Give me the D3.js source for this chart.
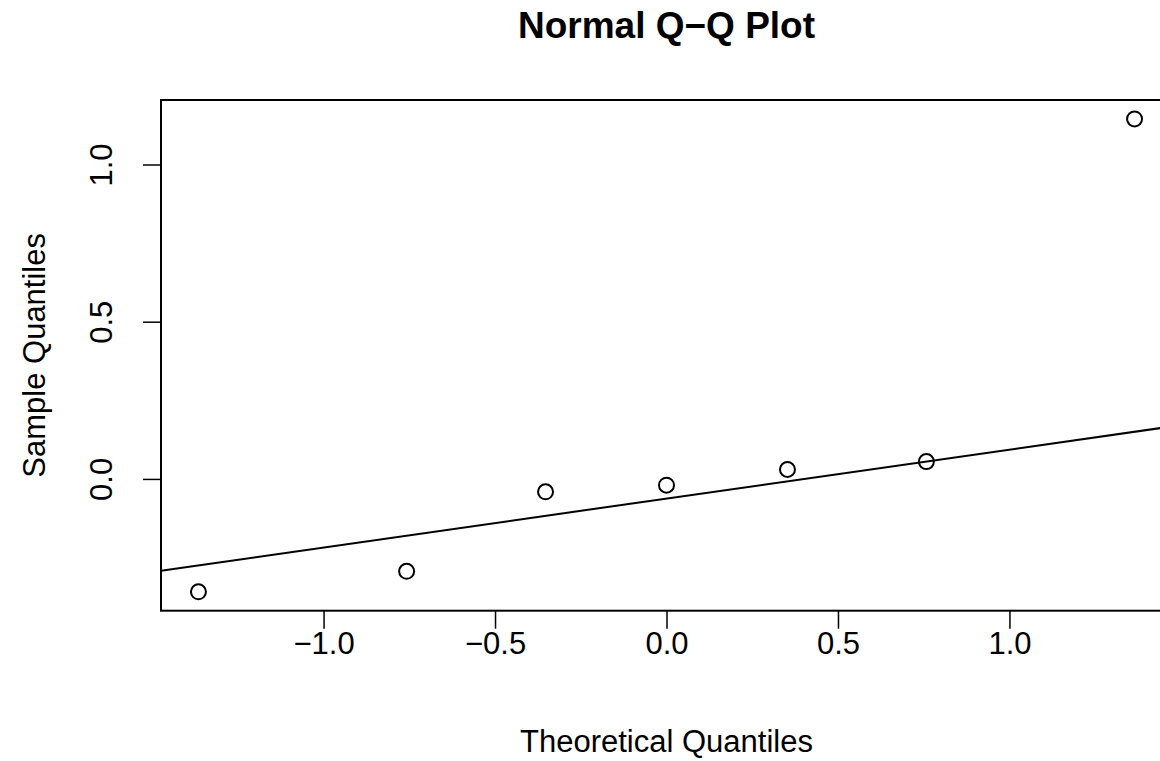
<!DOCTYPE html>
<html>
<head>
<meta charset="utf-8">
<script src="https://cdn.jsdelivr.net/npm/d3@7"></script>
<style>
  body { margin: 0; background: #fff; }
  text { font-family: "Liberation Sans", Arial, Helvetica, sans-serif; fill: #000; }
</style>
</head>
<body>
<svg id="chart"></svg>
<script>
// theoretical quantiles (qnorm of ppoints(7)) and the sample values
let theoretical = [-1.3648, -0.7578, -0.3527, 0, 0.3527, 0.7578, 1.3648];
let sample = [-0.359, -0.294, -0.041, -0.020, 0.030, 0.055, 1.145];

let xTicks = [-1.0, -0.5, 0.0, 0.5, 1.0];
let yTicks = [0.0, 0.5, 1.0];

let svgWidth = 1160,
    svgHeight = 761;

// plot box (right edge falls outside the picture, like the original)
let boxLeft = 161, boxTop = 100, boxRight = 1172, boxBottom = 610.7;

let svg = d3.select('#chart')
            .attr('width', svgWidth)
            .attr('height', svgHeight);

// R style: extend data range by 4% on each side
function pad(ext) {
  let d = (ext[1] - ext[0]) * 0.04;
  return [ext[0] - d, ext[1] + d];
}

let xScale = d3.scaleLinear()
               .domain(pad(d3.extent(theoretical)))
               .range([boxLeft, boxRight]);

let yScale = d3.scaleLinear()
               .domain(pad(d3.extent(sample)))
               .range([boxBottom, boxTop]);

let fmt = d3.format('.1f');

// box
svg.append('rect')
   .attr('x', boxLeft)
   .attr('y', boxTop)
   .attr('width', boxRight - boxLeft)
   .attr('height', boxBottom - boxTop)
   .attr('fill', 'none')
   .attr('stroke', '#000')
   .attr('stroke-width', 2);

// x axis
let xAxis = d3.axisBottom(xScale)
              .tickValues(xTicks)
              .tickSize(18)
              .tickPadding(3)
              .tickFormat(fmt);

let gx = svg.append('g')
            .attr('transform', `translate(0,${boxBottom})`)
            .call(xAxis);
gx.select('.domain').remove();
gx.selectAll('line').attr('stroke', '#000').attr('stroke-width', 1.5);
gx.selectAll('text')
  .attr('font-size', 31)
  .attr('font-family', '"Liberation Sans", Arial, sans-serif');

// y axis, labels rotated like R's las=0
let yAxis = d3.axisLeft(yScale)
              .tickValues(yTicks)
              .tickSize(18)
              .tickFormat(fmt);

let gy = svg.append('g')
            .attr('transform', `translate(${boxLeft},0)`)
            .call(yAxis);
gy.select('.domain').remove();
gy.selectAll('line').attr('stroke', '#000').attr('stroke-width', 1.5);
gy.selectAll('text')
  .attr('font-size', 31)
  .attr('font-family', '"Liberation Sans", Arial, sans-serif')
  .attr('x', null)
  .attr('dy', null)
  .attr('text-anchor', 'middle')
  .attr('transform', 'translate(-49,0) rotate(-90)');

// qqline through first and third quartiles
let sorted = sample.slice().sort(d3.ascending);
let q1 = d3.quantile(sorted, 0.25), q3 = d3.quantile(sorted, 0.75);
let z = 0.6744898;
let slope = (q3 - q1) / (2 * z);
let intercept = q1 + z * slope;

svg.append('clipPath')
   .attr('id', 'clip')
   .append('rect')
   .attr('x', boxLeft)
   .attr('y', boxTop)
   .attr('width', boxRight - boxLeft)
   .attr('height', boxBottom - boxTop);

let xd = xScale.domain();
svg.append('line')
   .attr('clip-path', 'url(#clip)')
   .attr('x1', xScale(xd[0]))
   .attr('y1', yScale(intercept + slope * xd[0]))
   .attr('x2', xScale(xd[1]))
   .attr('y2', yScale(intercept + slope * xd[1]))
   .attr('stroke', '#000')
   .attr('stroke-width', 2);

// points
svg.selectAll('circle')
   .data(theoretical)
   .enter()
   .append('circle')
   .attr('cx', d => xScale(d))
   .attr('cy', (d, i) => yScale(sample[i]))
   .attr('r', 7.5)
   .attr('fill', 'none')
   .attr('stroke', '#000')
   .attr('stroke-width', 2);

// titles
let cx = (boxLeft + boxRight) / 2;

svg.append('text')
   .attr('x', cx)
   .attr('y', 38)
   .attr('text-anchor', 'middle')
   .attr('font-size', 37)
   .attr('font-weight', 'bold')
   .text('Normal Q\u2212Q Plot');

svg.append('text')
   .attr('x', cx)
   .attr('y', 752)
   .attr('text-anchor', 'middle')
   .attr('font-size', 31)
   .text('Theoretical Quantiles');

svg.append('text')
   .attr('transform', `translate(45,${(boxTop + boxBottom) / 2}) rotate(-90)`)
   .attr('text-anchor', 'middle')
   .attr('font-size', 31)
   .text('Sample Quantiles');
</script>
</body>
</html>
